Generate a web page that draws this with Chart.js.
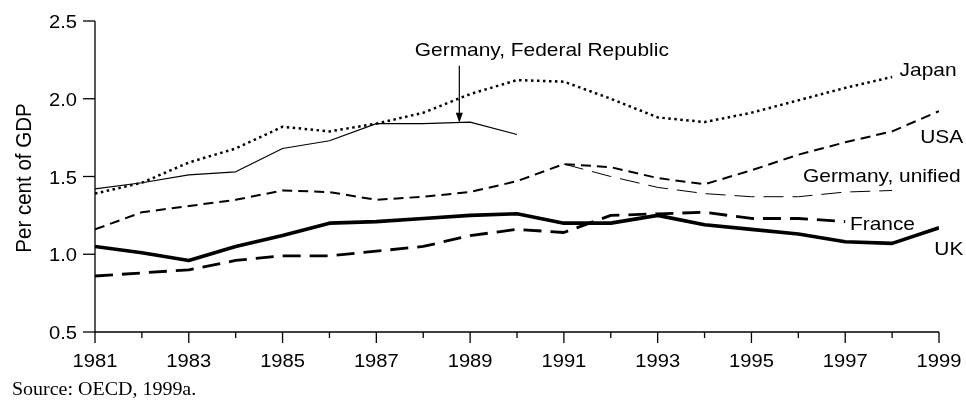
<!DOCTYPE html>
<html>
<head>
<meta charset="utf-8">
<script src="https://cdn.jsdelivr.net/npm/chart.js@4"></script>
<style>
  html, body { margin: 0; padding: 0; background: #fff; }
  #wrap { width: 966px; height: 401px; }
</style>
</head>
<body>
<div id="wrap"><canvas id="rdChart" width="966" height="401"></canvas></div>
<script>
// R&D spending as per cent of GDP, 1981-1999
const years = [1981, 1982, 1983, 1984, 1985, 1986, 1987, 1988, 1989, 1990,
               1991, 1992, 1993, 1994, 1995, 1996, 1997, 1998, 1999];
const japan = [1.39, 1.46, 1.59, 1.68, 1.82, 1.79, 1.84, 1.91, 2.03, 2.12,
               2.11, 2.00, 1.88, 1.85, 1.91, 1.99, 2.07, 2.14, null];
const usa = [1.16, 1.27, 1.31, 1.35, 1.41, 1.40, 1.35, 1.37, 1.40, 1.47,
             1.58, 1.56, 1.49, 1.45, 1.54, 1.64, 1.72, 1.79, 1.92];
const germanyFR = [1.42, 1.46, 1.51, 1.53, 1.68, 1.73, 1.84, 1.84, 1.85, 1.77,
                   null, null, null, null, null, null, null, null, null];
const germanyUnified = [null, null, null, null, null, null, null, null, null, null,
                        1.58, 1.50, 1.43, 1.39, 1.37, 1.37, 1.40, 1.41, null];
const france = [0.86, 0.88, 0.90, 0.96, 0.99, 0.99, 1.02, 1.05, 1.12, 1.16,
                1.14, 1.25, 1.26, 1.27, 1.23, 1.23, 1.21, null, null];
const uk = [1.05, 1.01, 0.96, 1.05, 1.12, 1.20, 1.21, 1.23, 1.25, 1.26,
            1.20, 1.20, 1.25, 1.19, 1.16, 1.13, 1.08, 1.07, 1.17];

const xTickLabels = [1981, 1983, 1985, 1987, 1989, 1991, 1993, 1995, 1997, 1999];
const yTickLabels = [0.5, 1.0, 1.5, 2.0, 2.5];

const SANS = '"Liberation Sans", Arial, sans-serif';
const SERIF = '"Liberation Serif", "Times New Roman", serif';

function points(values) {
    return years.map((yr, i) => ({ x: yr, y: values[i] }));
}

// draw text slightly stretched sideways, like the printed figure
function stretchText(ctx, s, x, y, size, sx, align, family) {
    ctx.save();
    ctx.font = size + 'px ' + family;
    ctx.textAlign = align;
    ctx.textBaseline = 'alphabetic';
    ctx.translate(x, y);
    ctx.scale(sx, 1);
    ctx.fillText(s, 0, 0);
    ctx.restore();
}

// axes, ticks, line labels and the arrow
const framePlugin = {
    id: 'frame',
    afterDraw(chart) {
        const ctx = chart.ctx;
        const xs = chart.scales.x;
        const ys = chart.scales.y;
        const left = xs.getPixelForValue(1981);
        const right = xs.getPixelForValue(1999);
        const top = ys.getPixelForValue(2.5);
        const bottom = ys.getPixelForValue(0.5);

        ctx.save();
        ctx.strokeStyle = '#000';
        ctx.fillStyle = '#000';
        ctx.lineWidth = 1.3;

        // axis lines
        ctx.beginPath();
        ctx.moveTo(left, top);
        ctx.lineTo(left, bottom);
        ctx.lineTo(right, bottom);
        ctx.stroke();

        // y ticks + labels
        yTickLabels.forEach(v => {
            const py = ys.getPixelForValue(v);
            ctx.beginPath();
            ctx.moveTo(left - 12, py);
            ctx.lineTo(left, py);
            ctx.stroke();
            stretchText(ctx, v.toFixed(1), 77, py + 7, 18, 1.12, 'right', SANS);
        });

        // x ticks: long on odd years, short on the others
        years.forEach(yr => {
            const px = xs.getPixelForValue(yr);
            const len = xTickLabels.includes(yr) ? 11 : 6;
            ctx.beginPath();
            ctx.moveTo(px, bottom);
            ctx.lineTo(px, bottom + len);
            ctx.stroke();
        });
        xTickLabels.forEach(yr => {
            stretchText(ctx, String(yr), xs.getPixelForValue(yr), 367, 18, 1.12, 'center', SANS);
        });

        // y axis title
        ctx.save();
        ctx.translate(31, 178);
        ctx.rotate(-Math.PI / 2);
        ctx.scale(1, 1.12);
        ctx.font = '20.5px ' + SANS;
        ctx.textAlign = 'center';
        ctx.fillText('Per cent of GDP', 0, 0);
        ctx.restore();

        // line labels
        const lbl = (s, yr, v) =>
            stretchText(ctx, s, xs.getPixelForValue(yr), ys.getPixelForValue(v), 18.5, 1.13, 'left', SANS);
        lbl('Japan', 1998.16, 2.147);
        lbl('USA', 1998.6, 1.714);
        lbl('Germany, unified', 1996.1, 1.466);
        lbl('France', 1997.1, 1.157);
        lbl('UK', 1998.9, 0.995);
        lbl('Germany, Federal Republic', 1987.82, 2.272);

        // arrow pointing at the West German line
        const ax = xs.getPixelForValue(1988.77);
        const ay0 = ys.getPixelForValue(2.213);
        const tip = ys.getPixelForValue(1.845);
        ctx.lineWidth = 1.2;
        ctx.beginPath();
        ctx.moveTo(ax, ay0);
        ctx.lineTo(ax, tip - 8);
        ctx.stroke();
        ctx.beginPath();
        ctx.moveTo(ax, tip);
        ctx.lineTo(ax - 3.5, tip - 10);
        ctx.lineTo(ax + 3.5, tip - 10);
        ctx.closePath();
        ctx.fill();

        // source note
        stretchText(ctx, 'Source: OECD, 1999a.', 12, 395, 18.5, 1.08, 'left', SERIF);
        ctx.restore();
    }
};

const ctx = document.getElementById('rdChart').getContext('2d');
const rdChart = new Chart(ctx, {
    type: 'line',
    data: {
        datasets: [
            { label: 'Japan', data: points(japan), borderWidth: 2.5, borderDash: [2.5, 3.5] },
            { label: 'USA', data: points(usa), borderWidth: 2, borderDash: [10, 6] },
            { label: 'Germany, Federal Republic', data: points(germanyFR), borderWidth: 1.2 },
            { label: 'Germany, unified', data: points(germanyUnified), borderWidth: 1, borderDash: [20, 9] },
            { label: 'France', data: points(france), borderWidth: 2.8, borderDash: [18, 9] },
            { label: 'UK', data: points(uk), borderWidth: 3.6 }
        ].map(d => Object.assign({
            borderColor: '#000',
            backgroundColor: '#000',
            pointRadius: 0,
            tension: 0,
            fill: false,
            spanGaps: false,
            borderJoinStyle: 'round'
        }, d))
    },
    options: {
        responsive: false,
        animation: false,
        devicePixelRatio: 1,
        layout: { padding: { left: 95, right: 27, top: 21, bottom: 69 } },
        plugins: {
            legend: { display: false },
            tooltip: { enabled: false }
        },
        scales: {
            x: { type: 'linear', min: 1981, max: 1999, display: false },
            y: { min: 0.5, max: 2.5, display: false }
        }
    },
    plugins: [framePlugin]
});
</script>
</body>
</html>
